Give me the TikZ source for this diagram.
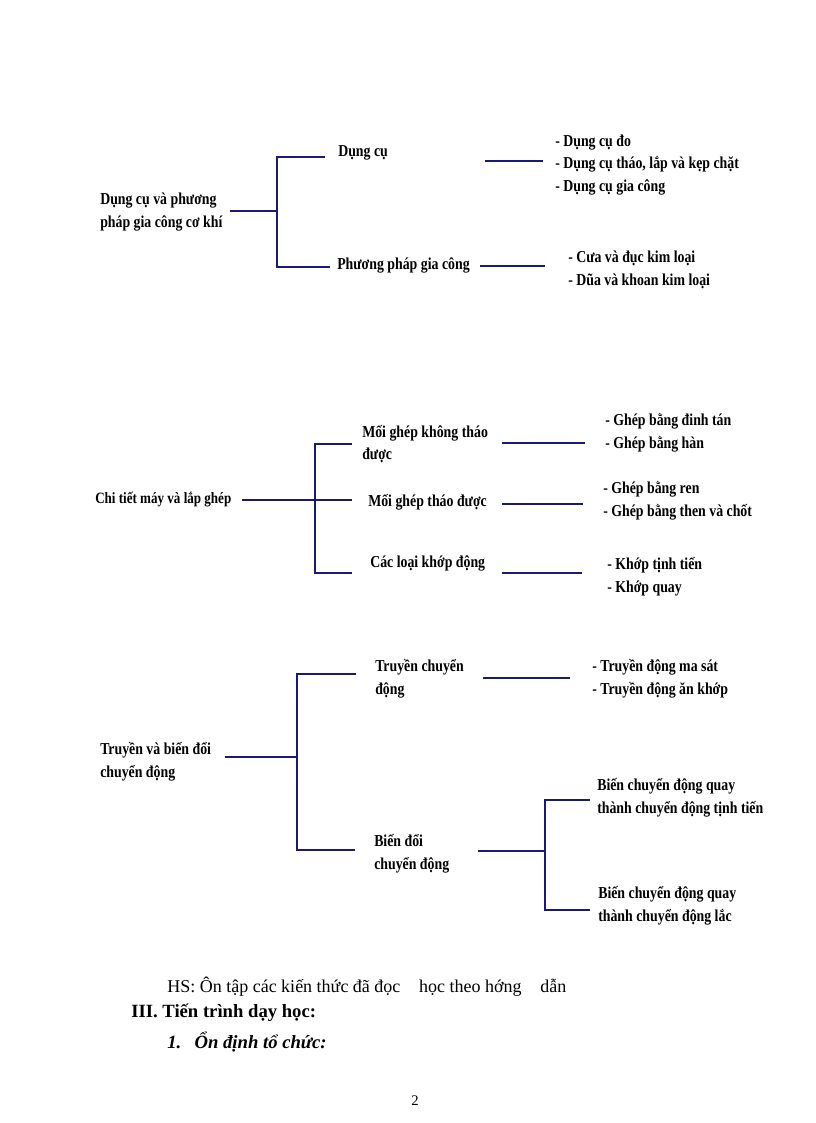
\documentclass[tikz,border=0pt]{standalone}
\usepackage{fontspec}
\setmainfont{Liberation Serif}
\newfontfamily\vnfont[FakeStretch=0.83]{Liberation Serif}
\usetikzlibrary{positioning}
\definecolor{navy}{RGB}{25,25,120}

\begin{document}
\begin{tikzpicture}[x=0.75pt, y=-0.75pt,
  lbl/.style={anchor=west, inner sep=0pt, align=left, font=\vnfont\bfseries\fontsize{12.5}{17}\selectfont},
  link/.style={draw=navy, line width=1.1pt},
  txt/.style={anchor=west, inner sep=0pt, font=\fontsize{13.5}{15}\selectfont},
]
\useasboundingbox (0,0) rectangle (816,1123);

% Dung cu va phuong phap gia cong
\node[lbl] (dc)   at (100,212) {Dụng cụ và phương\\pháp gia công cơ khí};
\node[lbl] (dcu)  at (338,153) {Dụng cụ};
\node[lbl] (ppgc) at (337,265) {Phương pháp gia công};
\node[lbl] (dcuL) at (555,165) {- Dụng cụ đo\\- Dụng cụ tháo, lắp và kẹp chặt\\- Dụng cụ gia công};
\node[lbl] (ppL)  at (568,270) {- Cưa và đục kim loại\\- Dũa và khoan kim loại};

\coordinate (s1) at (230,211);
\coordinate (j1) at (277,211);
\coordinate (t1) at (325,157);
\coordinate (t2) at (330,267);
\coordinate (u1a) at (485,161); \coordinate (u1b) at (543,161);
\coordinate (u2a) at (480,266); \coordinate (u2b) at (545,266);
\draw[link] (s1) -- (j1);
\draw[link] (t1) -| (j1) |- (t2);
\draw[link] (u1a) -- (u1b);
\draw[link] (u2a) -- (u2b);

% Chi tiet may va lap ghep
\node[lbl, font=\vnfont\bfseries\fontsize{11.8}{17}\selectfont] (ct) at (95,500) {Chi tiết máy và lắp ghép};
\node[lbl] (mg1) at (362,444) {Mối ghép không tháo\\được};
\node[lbl] (mg2) at (368,502) {Mối ghép tháo được};
\node[lbl] (kd)  at (370,563) {Các loại khớp động};
\node[lbl] (mg1L) at (605,433) {- Ghép bằng đinh tán\\- Ghép bằng hàn};
\node[lbl] (mg2L) at (603,501) {- Ghép bằng ren\\- Ghép bằng then và chốt};
\node[lbl] (kdL)  at (607,577) {- Khớp tịnh tiến\\- Khớp quay};

\coordinate (s2) at (242,500);
\coordinate (j2) at (315,500);
\coordinate (t3) at (352,444);
\coordinate (t4) at (352,500);
\coordinate (t5) at (352,573);
\coordinate (u3a) at (502,443); \coordinate (u3b) at (585,443);
\coordinate (u4a) at (502,504); \coordinate (u4b) at (583,504);
\coordinate (u5a) at (502,573); \coordinate (u5b) at (582,573);
\draw[link] (s2) -- (j2) -- (t4);
\draw[link] (t3) -| (j2) |- (t5);
\draw[link] (u3a) -- (u3b);
\draw[link] (u4a) -- (u4b);
\draw[link] (u5a) -- (u5b);

% Truyen va bien doi chuyen dong
\node[lbl] (tb)  at (100,762) {Truyền và biến đổi\\chuyển động};
\node[lbl] (tcd) at (375,679) {Truyền chuyển\\động};
\node[lbl] (bd)  at (374,854) {Biến đổi\\chuyển động};
\node[lbl] (tcdL) at (592,679) {- Truyền động ma sát\\- Truyền động ăn khớp};
\node[lbl] (bq1) at (597,798) {Biến chuyển động quay\\thành chuyển động tịnh tiến};
\node[lbl] (bq2) at (598,906) {Biến chuyển động quay\\thành chuyển động lắc};

\coordinate (s3) at (225,757);
\coordinate (j3) at (297,757);
\coordinate (t6) at (356,674);
\coordinate (t7) at (355,850);
\coordinate (u6a) at (483,678); \coordinate (u6b) at (570,678);
\coordinate (s4) at (478,851);
\coordinate (j4) at (545,851);
\coordinate (t8) at (590,800);
\coordinate (t9) at (590,910);
\draw[link] (s3) -- (j3);
\draw[link] (t6) -| (j3) |- (t7);
\draw[link] (u6a) -- (u6b);
\draw[link] (s4) -- (j4);
\draw[link] (t8) -| (j4) |- (t9);

% text below
\node[txt] (hs) at (167,987) {HS: Ôn tập các kiến thức đã đọc\hspace{14pt}học theo hớng\hspace{14pt}dẫn};
\node[txt, font=\bfseries\fontsize{14}{16}\selectfont] (iii) at (131,1013) {III. Tiến trình dạy học:};
\node[txt, font=\bfseries\itshape\fontsize{14}{16}\selectfont] (od) at (167,1042) {1.\hspace{10pt}Ổn định tổ chức:};
\node[txt, font=\fontsize{11}{13}\selectfont] (pg) at (411,1101) {2};
\end{tikzpicture}
\end{document}
